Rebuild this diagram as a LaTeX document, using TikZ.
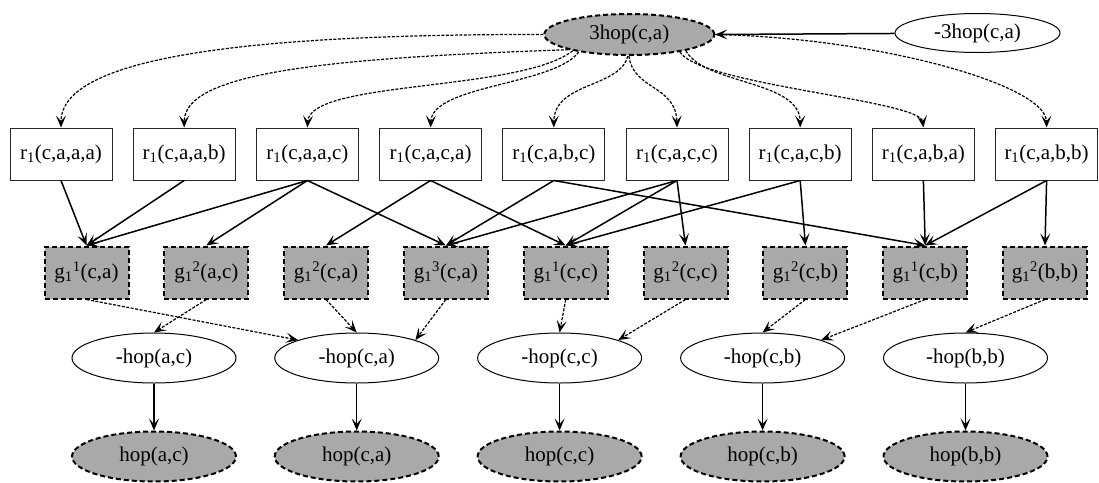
\documentclass[tikz,border=0pt]{standalone}
\usepackage{fontspec}
\setmainfont{Liberation Serif}
\usetikzlibrary{arrows.meta,shapes.geometric}
\definecolor{fillgray}{RGB}{169,169,169}

\begin{document}
\begin{tikzpicture}[x=1pt,y=-1pt,
  every node/.style={font=\rmfamily\fontsize{21}{25}\selectfont, inner sep=0pt},
  rbox/.style={draw=black!85, line width=1pt, minimum width=102pt, minimum height=52pt},
  gbox/.style={draw, fill=fillgray, line width=2pt, dash pattern=on 5pt off 3pt,
               minimum width=84pt, minimum height=52pt},
  oval/.style={ellipse, draw, line width=1pt, minimum width=164pt, minimum height=50pt},
  goval/.style={oval, fill=fillgray, line width=2pt, dash pattern=on 5pt off 3pt},
  tip/.style={-{Stealth[length=12pt,width=10pt,inset=5.5pt]}},
  solidedge/.style={tip, line width=1.5pt},
  dotedge/.style={tip, line width=1.2pt, dash pattern=on 3pt off 1.5pt},
]
\useasboundingbox (0,0) rectangle (1099,482);

% top pair
\node[goval, minimum width=170pt, minimum height=41pt] (top3) at (629.3,34.5) {3hop(c,a)};
\node[oval, minimum width=165pt, minimum height=39pt] (neg3) at (977.5,33) {-3hop(c,a)};

% rule instances
\node[rbox] (rA) at (61,154)     {r\textsubscript{1}(c,a,a,a)};
\node[rbox] (rB) at (184.2,154)  {r\textsubscript{1}(c,a,a,b)};
\node[rbox] (rC) at (307.4,154)  {r\textsubscript{1}(c,a,a,c)};
\node[rbox] (rD) at (430.6,154)  {r\textsubscript{1}(c,a,c,a)};
\node[rbox] (rE) at (553.8,154)  {r\textsubscript{1}(c,a,b,c)};
\node[rbox] (rF) at (677,154)    {r\textsubscript{1}(c,a,c,c)};
\node[rbox] (rG) at (800.2,154)  {r\textsubscript{1}(c,a,c,b)};
\node[rbox] (rH) at (923.4,154)  {r\textsubscript{1}(c,a,b,a)};
\node[rbox] (rI) at (1046.6,154) {r\textsubscript{1}(c,a,b,b)};

% ground atoms
\node[gbox] (gA) at (86.5,272.5)  {g\textsubscript{1}\textsuperscript{1}(c,a)};
\node[gbox] (gB) at (206.3,272.5) {g\textsubscript{1}\textsuperscript{2}(a,c)};
\node[gbox] (gC) at (326,272.5)   {g\textsubscript{1}\textsuperscript{2}(c,a)};
\node[gbox] (gD) at (445.9,272.5) {g\textsubscript{1}\textsuperscript{3}(c,a)};
\node[gbox] (gE) at (565.7,272.5) {g\textsubscript{1}\textsuperscript{1}(c,c)};
\node[gbox] (gF) at (685.5,272.5) {g\textsubscript{1}\textsuperscript{2}(c,c)};
\node[gbox] (gG) at (805.4,272.5) {g\textsubscript{1}\textsuperscript{2}(c,b)};
\node[gbox] (gH) at (925.2,272.5) {g\textsubscript{1}\textsuperscript{1}(c,b)};
\node[gbox] (gI) at (1045,272.5)  {g\textsubscript{1}\textsuperscript{2}(b,b)};

% negated hops
\node[oval] (mAC) at (154,358)   {-hop(a,c)};
\node[oval] (mCA) at (356.7,358) {-hop(c,a)};
\node[oval] (mCC) at (559.6,358) {-hop(c,c)};
\node[oval] (mCB) at (762.6,358) {-hop(c,b)};
\node[oval] (mBB) at (965.5,358) {-hop(b,b)};

% hops
\node[goval] (hAC) at (154,456.5)   {hop(a,c)};
\node[goval] (hCA) at (356.7,456.5) {hop(c,a)};
\node[goval] (hCC) at (559.6,456.5) {hop(c,c)};
\node[goval] (hCB) at (762.6,456.5) {hop(c,b)};
\node[goval] (hBB) at (965.5,456.5) {hop(b,b)};

% -3hop to 3hop
\draw[solidedge] (neg3) -- (top3.east);

% 3hop fans out to the rule instances
\draw[dotedge] (top3.west) .. controls (260,34) and (61,55) .. (rA.north);
\draw[dotedge] (top3.194) .. controls (330,58) and (184,72) .. (rB.north);
\draw[dotedge] (top3.196) .. controls (520,92) and (310,80) .. (rC.north);
\draw[dotedge] (top3.199) .. controls (555,85) and (432,85) .. (rD.north);
\draw[dotedge] (top3.266) .. controls (620,88) and (554,82) .. (rE.north);
\draw[dotedge] (top3.269) .. controls (633,90) and (676,85) .. (rF.north);
\draw[dotedge] (top3.344) .. controls (705,85) and (800,80) .. (rG.north);
\draw[dotedge] (top3.341) .. controls (700,85) and (920,100) .. (rH.north);
\draw[dotedge] (top3.east) .. controls (880,38) and (1046,85) .. (rI.north);

% rule instances to ground atoms
\foreach \s/\t in {rA/gA, rB/gA, rC/gA, rC/gB, rC/gD, rD/gC, rD/gE,
                   rE/gD, rE/gH, rF/gD, rF/gE, rF/gF, rG/gE, rG/gG,
                   rH/gH, rI/gH, rI/gI}
  \draw[solidedge] (\s.south) -- (\t.north);

% ground atoms to negated hops
\draw[dotedge] (gA.south) -- (mCA.163);
\draw[dotedge] (gB.south) -- (mAC.north);
\draw[dotedge] (gC.south) -- (mCA.north);
\draw[dotedge] (gD.south) -- (mCA.17);
\draw[dotedge] (gE.south) -- (mCC.north);
\draw[dotedge] (gF.south) -- (mCC.17);
\draw[dotedge] (gG.south) -- (mCB.north);
\draw[dotedge] (gH.south) -- (mCB.17);
\draw[dotedge] (gI.south) -- (mBB.north);

% negated hops to hops
\foreach \s/\t in {mAC/hAC, mCA/hCA, mCC/hCC, mCB/hCB, mBB/hBB}
  \draw[solidedge] (\s) -- (\t);
\end{tikzpicture}
\end{document}
